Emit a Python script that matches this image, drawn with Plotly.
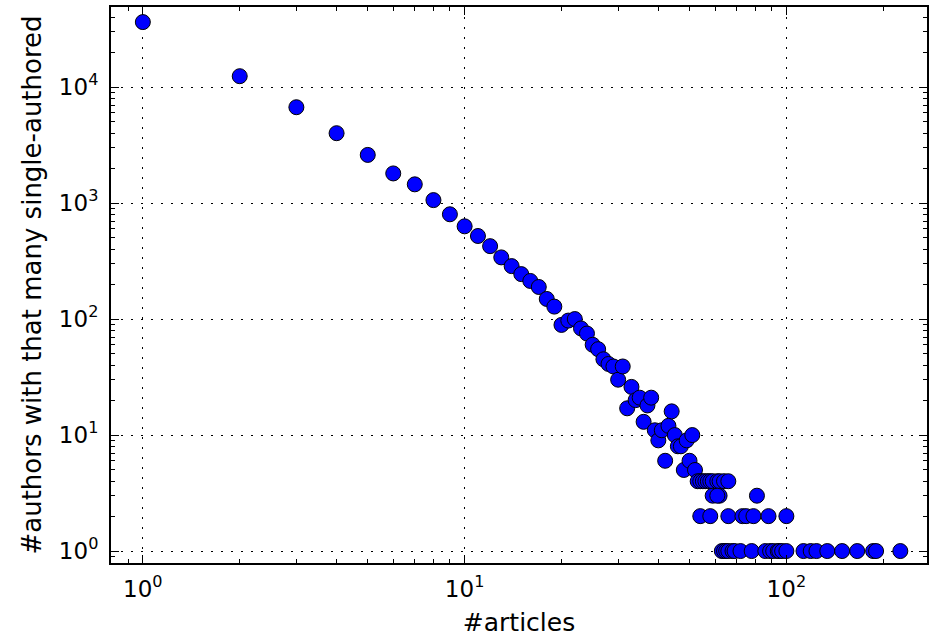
import plotly.graph_objects as go

# number of single-authored articles (x) and number of authors (y)
articles = [1, 2, 3, 4, 5, 6, 7, 8, 9, 10,
            11, 12, 13, 14, 15, 16, 17, 18, 19, 20,
            21, 22, 23, 24, 25, 26, 27, 28, 29, 30,
            31, 32, 33, 34, 35, 36, 37, 38, 39, 40,
            41, 42, 43, 44, 45, 46, 47, 48, 49, 50,
            51, 52, 53, 54, 55, 56, 57, 58, 59, 61,
            62, 63, 64, 65, 66, 66, 68, 69, 72, 73,
            75, 78, 79, 81, 86, 88, 89, 91, 94, 95,
            97, 100, 100, 113, 119, 124, 134, 149, 166, 186,
            190, 226, 54, 58, 59, 62, 64, 66, 61]
authors = [36300, 12400, 6700, 4000, 2600, 1800, 1450, 1060, 800, 630,
           520, 425, 340, 286, 244, 213, 189, 149, 128, 89,
           97, 100, 83, 75, 60, 55, 45, 41, 39, 30,
           39, 17, 26, 20, 21, 13, 18, 21, 11, 9,
           11, 6, 12, 16, 10, 8, 8, 5, 9, 6,
           10, 5, 4, 4, 4, 4, 4, 4, 4, 4,
           4, 1, 1, 1, 1, 2, 1, 1, 1, 2,
           2, 1, 2, 3, 1, 2, 1, 1, 1, 1,
           1, 1, 2, 1, 1, 1, 1, 1, 1, 1,
           1, 1, 2, 2, 3, 3, 4, 4, 3]

x_ticks = [1, 10, 100]
x_labels = ["10<sup>0</sup>", "10<sup>1</sup>", "10<sup>2</sup>"]
y_ticks = [1, 10, 100, 1000, 10000]
y_labels = ["10<sup>0</sup>", "10<sup>1</sup>", "10<sup>2</sup>", "10<sup>3</sup>", "10<sup>4</sup>"]

x_minor = [m * 10 ** d for d in range(-1, 3) for m in range(2, 10)]
y_minor = [m * 10 ** d for d in range(-1, 5) for m in range(2, 10)]

fig = go.Figure()
fig.add_trace(go.Scatter(
    x=articles, y=authors, mode="markers",
    marker=dict(size=15, color="#0000ff", line=dict(color="black", width=1)),
    showlegend=False, cliponaxis=False,
))

axis_common = dict(
    type="log", showline=True, linecolor="black", linewidth=2, mirror="allticks",
    ticks="inside", ticklen=8, tickwidth=1, tickcolor="black",
    showgrid=True, gridcolor="black", gridwidth=1, griddash="2px,8px",
    zeroline=False,
    tickfont=dict(family="DejaVu Sans", size=23, color="black"),
)

title_font = dict(family="DejaVu Sans", size=25, color="black")

fig.update_xaxes(**axis_common, range=[-0.099, 2.437], tickvals=x_ticks, ticktext=x_labels,
                 minor=dict(ticks="inside", ticklen=4, tickcolor="black", tickvals=x_minor, showgrid=False),
                 ticklabelstandoff=4,
                 title=dict(text="#articles", font=title_font, standoff=16))
fig.update_yaxes(**axis_common, range=[-0.103, 4.69], tickvals=y_ticks, ticktext=y_labels,
                 minor=dict(ticks="inside", ticklen=4, tickcolor="black", tickvals=y_minor, showgrid=False),
                 ticklabelstandoff=6,
                 title=dict(text="#authors with that many single-authored",
                            font=dict(family="DejaVu Sans", size=26, color="black"), standoff=10))

fig.update_layout(
    width=930, height=637,
    margin=dict(l=111, r=1, t=7, b=74),
    plot_bgcolor="white", paper_bgcolor="white",
    font=dict(family="DejaVu Sans", color="black"),
)

fig.write_html("out.html")
